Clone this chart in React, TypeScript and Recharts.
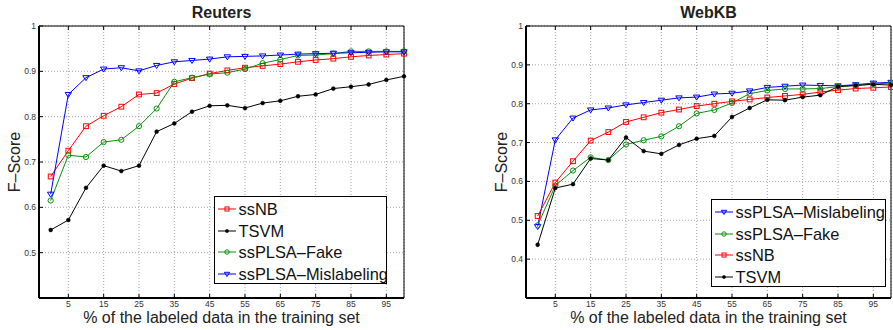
import { CartesianGrid, Legend, Line, LineChart, XAxis, YAxis } from "recharts";

const FONT = '"Liberation Sans", Arial, Helvetica, sans-serif';

// x positions (% labeled data) and axis ticks
const xValues = [0, 5, 10, 15, 20, 25, 30, 35, 40, 45, 50, 55, 60, 65, 70, 75, 80, 85, 90, 95, 100];
const xTicks = [5, 15, 25, 35, 45, 55, 65, 75, 85, 95];

const reutersTicks = [0.5, 0.6, 0.7, 0.8, 0.9, 1];
const webkbTicks = [0.4, 0.5, 0.6, 0.7, 0.8, 0.9, 1];

// Reuters
const reutersSsNB = [0.668, 0.725, 0.779, 0.802, 0.822, 0.849, 0.852, 0.872, 0.885, 0.895, 0.902, 0.908, 0.912, 0.916, 0.921, 0.925, 0.928, 0.932, 0.935, 0.937, 0.939];
const reutersTSVM = [0.55, 0.572, 0.643, 0.692, 0.68, 0.692, 0.767, 0.785, 0.811, 0.824, 0.825, 0.819, 0.83, 0.835, 0.845, 0.849, 0.862, 0.866, 0.871, 0.881, 0.889];
const reutersFake = [0.615, 0.715, 0.711, 0.744, 0.749, 0.779, 0.818, 0.877, 0.886, 0.894, 0.897, 0.905, 0.918, 0.926, 0.935, 0.936, 0.939, 0.944, 0.944, 0.944, 0.944];
const reutersMisl = [0.629, 0.849, 0.886, 0.905, 0.908, 0.901, 0.913, 0.921, 0.924, 0.927, 0.932, 0.933, 0.934, 0.936, 0.938, 0.939, 0.94, 0.941, 0.942, 0.943, 0.943];

// WebKB
const webkbMisl = [0.484, 0.707, 0.763, 0.784, 0.789, 0.797, 0.803, 0.809, 0.815, 0.817, 0.825, 0.827, 0.833, 0.842, 0.845, 0.848, 0.847, 0.846, 0.849, 0.853, 0.855];
const webkbFake = [0.487, 0.589, 0.628, 0.662, 0.655, 0.695, 0.706, 0.716, 0.742, 0.775, 0.784, 0.802, 0.826, 0.834, 0.838, 0.838, 0.839, 0.844, 0.847, 0.851, 0.853];
const webkbSsNB = [0.511, 0.597, 0.652, 0.705, 0.727, 0.753, 0.765, 0.777, 0.785, 0.794, 0.8, 0.806, 0.811, 0.816, 0.82, 0.824, 0.83, 0.835, 0.839, 0.841, 0.843];
const webkbTSVM = [0.437, 0.583, 0.593, 0.659, 0.655, 0.713, 0.678, 0.671, 0.694, 0.71, 0.717, 0.766, 0.789, 0.81, 0.809, 0.817, 0.822, 0.844, 0.847, 0.85, 0.848];

type Marker = "square" | "dot" | "circle" | "triangle";

interface Series {
  key: string;
  name: string;
  color: string;
  marker: Marker;
  values: number[];
}

const RED = "#ff0000";
const BLACK = "#000000";
const GREEN = "#0a8f0a";
const BLUE = "#0000ff";

const reutersSeries: Series[] = [
  { key: "ssNB", name: "ssNB", color: RED, marker: "square", values: reutersSsNB },
  { key: "tsvm", name: "TSVM", color: BLACK, marker: "dot", values: reutersTSVM },
  { key: "fake", name: "ssPLSA–Fake", color: GREEN, marker: "circle", values: reutersFake },
  { key: "misl", name: "ssPLSA–Mislabeling", color: BLUE, marker: "triangle", values: reutersMisl },
];

const webkbSeries: Series[] = [
  { key: "misl", name: "ssPLSA–Mislabeling", color: BLUE, marker: "triangle", values: webkbMisl },
  { key: "fake", name: "ssPLSA–Fake", color: GREEN, marker: "circle", values: webkbFake },
  { key: "ssNB", name: "ssNB", color: RED, marker: "square", values: webkbSsNB },
  { key: "tsvm", name: "TSVM", color: BLACK, marker: "dot", values: webkbTSVM },
];

function renderMarker(kind: Marker, color: string, cx: number, cy: number, key: string, s = 1) {
  if (cx == null || cy == null) return <g key={key} />;
  switch (kind) {
    case "square":
      return <rect key={key} x={cx - 2.4 * s} y={cy - 2.4 * s} width={4.8 * s} height={4.8 * s} fill="none" stroke={color} strokeWidth={1} />;
    case "dot":
      return <circle key={key} cx={cx} cy={cy} r={1.9 * s} fill={color} stroke={color} strokeWidth={0.6} />;
    case "circle":
      return <circle key={key} cx={cx} cy={cy} r={2.6 * s} fill="none" stroke={color} strokeWidth={1} />;
    default:
      return (
        <path
          key={key}
          d={`M${cx - 3.2 * s},${cy - 2 * s} L${cx + 3.2 * s},${cy - 2 * s} L${cx},${cy + 3 * s} Z`}
          fill="none"
          stroke={color}
          strokeWidth={1}
        />
      );
  }
}

function LegendBox({ items }: { items: Series[] }) {
  return (
    <div
      style={{
        boxSizing: "border-box",
        width: "100%",
        height: 88,
        border: "1.5px solid #000",
        background: "#fff",
        paddingTop: 1,
      }}
    >
      {items.map((s) => (
        <div key={s.key} style={{ display: "flex", alignItems: "center", height: 21.8 }}>
          <svg width={18} height={10} style={{ marginLeft: 3, marginRight: 2.5, flexShrink: 0 }}>
            <line x1={0} y1={5} x2={18} y2={5} stroke={s.color} strokeWidth={1} />
            {renderMarker(s.marker, s.color, 9, 5, "m", 0.85)}
          </svg>
          <span style={{ fontFamily: FONT, fontSize: 16.4, color: "#111", whiteSpace: "nowrap", lineHeight: "16px" }}>
            {s.name}
          </span>
        </div>
      ))}
    </div>
  );
}

const fmtY = (v: number) => (v > 0.999 ? "1" : v.toFixed(1));

interface PanelProps {
  left: number;
  width: number;
  yWidth: number;
  rightSpace: number;
  title: string;
  yDomain: [number, number];
  yTicks: number[];
  series: Series[];
  legend: { left: number; top: number; width: number };
}

function Panel({ left, width, yWidth, rightSpace, title, yDomain, yTicks, series, legend }: PanelProps) {
  const data = xValues.map((x, i) => {
    const row: Record<string, number> = { x };
    series.forEach((s) => {
      row[s.key] = s.values[i];
    });
    return row;
  });
  const plotLeft = yWidth;
  const plotWidth = width - rightSpace - yWidth;
  const tickStyle = { fill: "#333", fontSize: 8.5, fontFamily: FONT };

  return (
    <div style={{ position: "absolute", left, top: 0, width, height: 330 }}>
      <LineChart width={width} height={330} data={data} margin={{ top: 25, right: rightSpace - 1, bottom: 0, left: 0 }}>
        <CartesianGrid stroke="#8f8f8f" strokeDasharray="1 2" strokeWidth={0.8} />
        <XAxis
          dataKey="x"
          type="number"
          domain={[-3.3, 100]}
          ticks={xTicks}
          interval={0}
          height={32}
          tickSize={-4}
          tickMargin={7}
          tick={tickStyle}
          axisLine={{ stroke: "#000", strokeWidth: 2 }}
          tickLine={{ stroke: "#000" }}
        />
        <XAxis
          xAxisId="top"
          dataKey="x"
          orientation="top"
          type="number"
          domain={[-3.3, 100]}
          ticks={xTicks}
          interval={0}
          height={1}
          tickSize={-4}
          tickFormatter={() => ""}
          axisLine={{ stroke: "#000", strokeWidth: 1 }}
          tickLine={{ stroke: "#000" }}
        />
        <YAxis
          type="number"
          domain={yDomain}
          ticks={yTicks}
          interval={0}
          width={yWidth}
          tickSize={-4}
          tickMargin={7}
          tickFormatter={fmtY}
          tick={tickStyle}
          axisLine={{ stroke: "#000", strokeWidth: 2 }}
          tickLine={{ stroke: "#000" }}
        />
        <YAxis
          yAxisId="right"
          orientation="right"
          type="number"
          domain={yDomain}
          ticks={yTicks}
          interval={0}
          width={1}
          tickSize={-4}
          tickFormatter={() => ""}
          axisLine={{ stroke: "#000", strokeWidth: 1 }}
          tickLine={{ stroke: "#000" }}
        />
        <Legend
          layout="vertical"
          align="center"
          verticalAlign="middle"
          wrapperStyle={{ left: legend.left, top: legend.top, width: legend.width, height: 88 }}
          content={() => <LegendBox items={series} />}
        />
        {series.map((s) => (
          <Line
            key={s.key}
            dataKey={s.key}
            name={s.name}
            type="linear"
            stroke={s.color}
            strokeWidth={1}
            dot={(p: any) => renderMarker(s.marker, s.color, p.cx, p.cy, `${s.key}-${p.index}`)}
            activeDot={false}
            isAnimationActive={false}
          />
        ))}
      </LineChart>

      <div
        style={{
          position: "absolute",
          left: plotLeft,
          width: plotWidth,
          top: 4.8,
          textAlign: "center",
          fontFamily: FONT,
          fontWeight: "bold",
          fontSize: 16,
          lineHeight: "16px",
          color: "#222",
        }}
      >
        {title}
      </div>
      <div
        style={{
          position: "absolute",
          left: plotLeft,
          width: plotWidth,
          top: 310,
          textAlign: "center",
          fontFamily: FONT,
          fontSize: 16,
          lineHeight: "16px",
          color: "#222",
          whiteSpace: "nowrap",
        }}
      >
        % of the labeled data in the training set
      </div>
      <div
        style={{
          position: "absolute",
          left: plotLeft - 24 - 100,
          top: 162 - 8,
          width: 200,
          textAlign: "center",
          fontFamily: FONT,
          fontSize: 16,
          lineHeight: "16px",
          color: "#222",
          transform: "rotate(-90deg)",
        }}
      >
        F–Score
      </div>
    </div>
  );
}

export default function App() {
  return (
    <div style={{ position: "absolute", left: 0, top: 0, width: 893, height: 330, background: "#fff", overflow: "hidden" }}>
      <Panel
        left={0}
        width={445}
        yWidth={39}
        rightSpace={41}
        title="Reuters"
        yDomain={[0.4, 1]}
        yTicks={reutersTicks}
        series={reutersSeries}
        legend={{ left: 214, top: 196, width: 173 }}
      />
      <Panel
        left={445}
        width={448}
        yWidth={81}
        rightSpace={2}
        title="WebKB"
        yDomain={[0.3, 1]}
        yTicks={webkbTicks}
        series={webkbSeries}
        legend={{ left: 266, top: 199, width: 175 }}
      />
    </div>
  );
}
